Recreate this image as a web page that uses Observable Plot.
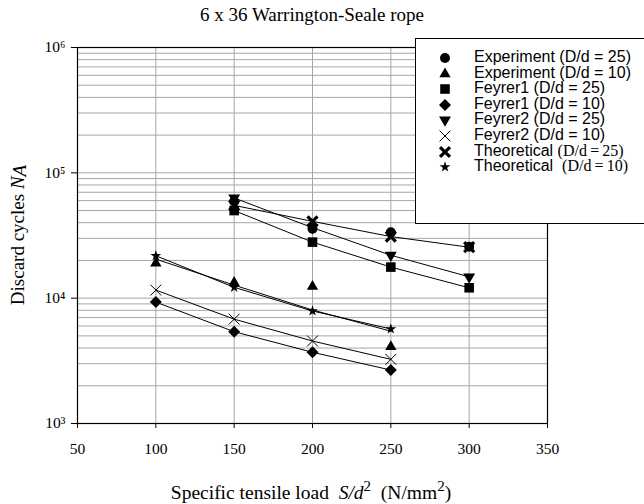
<!DOCTYPE html>
<html><head><meta charset="utf-8">
<script src="https://cdn.jsdelivr.net/npm/d3@7"></script>
<script src="https://cdn.jsdelivr.net/npm/@observablehq/plot@0.6"></script>
<style>
body{margin:0;background:#fff;}
#wrap{position:relative;width:644px;height:504px;overflow:hidden;font-family:"Liberation Serif","Times New Roman",serif;color:#000;}
#title{position:absolute;left:112px;width:400px;top:4px;text-align:center;font-size:19px;}
#ylab{position:absolute;left:18px;top:235px;transform:translate(-50%,-50%) rotate(-90deg);white-space:nowrap;font-size:19px;}
#xlab{position:absolute;left:311px;top:491px;transform:translate(-50%,-50%);white-space:nowrap;font-size:19.5px;}
#legend{position:absolute;left:415px;top:38px;width:240px;height:186px;border:1px solid #000;background:#fff;box-sizing:border-box;}
.row{position:absolute;left:0;height:16px;font-family:"Liberation Sans",Arial,sans-serif;font-size:16px;line-height:16px;white-space:nowrap;}
.row svg{position:absolute;left:21px;top:1px;}
.row span.t{position:absolute;left:58px;top:0;}
.serif{font-family:"Liberation Serif","Times New Roman",serif;}
</style></head><body>
<div id="wrap">
  <div id="chart"></div>
  <div id="title">6 x 36 Warrington-Seale rope</div>
  <div id="ylab">Discard cycles <i>N<span style="position:relative;top:2px">A</span></i></div>
  <div id="xlab">Specific tensile load &nbsp;<i>S/d</i><sup style="font-size:15px">2</sup> &nbsp;(N/mm<sup style="font-size:15px">2</sup>)</div>
  <div id="legend"></div>
</div>
<script>
// ---- data ----
const loads25 = [150, 200, 250, 300];
const loads10 = [100, 150, 200, 250];
const experiment25 = [59000, 35800, 33500, 25700];
const experiment10 = [19000, 13300, 12400, 4100];
const feyrer1_25 = [50000, 28000, 17700, 12100];
const feyrer1_10 = [9300, 5400, 3700, 2670];
const feyrer2_25 = [63000, 36500, 22000, 14800];
const feyrer2_10 = [11600, 6800, 4550, 3250];
const theoretical25 = [55000, 41000, 31000, 25500];
const theoretical10 = [21800, 12200, 7900, 5680];
const theoreticalFit10 = [20500, 12700, 8050, 5450];
const xTicks = [50, 100, 150, 200, 250, 300, 350];
const yTicks = [1e3, 1e4, 1e5, 1e6];
const supers = {"3":"³","4":"⁴","5":"⁵","6":"⁶"};

const triangleDown = {
  draw(context, size) {
    const y = -Math.sqrt(size / (Math.sqrt(3) * 3));
    context.moveTo(0, -y * 2);
    context.lineTo(-Math.sqrt(3) * y, y);
    context.lineTo(Math.sqrt(3) * y, y);
    context.closePath();
  }
};

const series = [
  {name: "Experiment", dd: "(D/d = 25)", x: loads25, y: experiment25, symbol: d3.symbolCircle, r: 5, line: false, filled: true},
  {name: "Experiment", dd: "(D/d = 10)", x: loads10, y: experiment10, symbol: d3.symbolTriangle, r: 4.2, line: false, filled: true},
  {name: "Feyrer1", dd: "(D/d = 25)", x: loads25, y: feyrer1_25, symbol: d3.symbolSquare, r: 5.4, line: true, filled: true},
  {name: "Feyrer1", dd: "(D/d = 10)", x: loads10, y: feyrer1_10, symbol: d3.symbolDiamond2, r: 5.4, line: true, filled: true},
  {name: "Feyrer2", dd: "(D/d = 25)", x: loads25, y: feyrer2_25, symbol: triangleDown, r: 4.4, line: true, filled: true},
  {name: "Feyrer2", dd: "(D/d = 10)", x: loads10, y: feyrer2_10, symbol: d3.symbolTimes, r: 5, line: true, filled: false, sw: 1},
  {name: "Theoretical", dd: "(D/d = 25)", x: loads25, y: theoretical25, symbol: d3.symbolTimes, r: 4.6, line: true, filled: false, sw: 3.2, serif: true},
  {name: "Theoretical", dd: "(D/d = 10)", x: loads10, y: theoretical10, symbol: d3.symbolStar, r: 3.4, line: true, filled: true, serif: true, gap: true}
];

const toRows = (xs, ys) => xs.map((x, i) => ({x, y: ys[i]}));

const marks = [
  Plot.gridY({ticks: d3.scaleLog().domain([1e3, 1e6]).ticks(), stroke: "#a6a6a6", strokeOpacity: 1, strokeWidth: 1}),
  Plot.gridX({ticks: xTicks, stroke: "#a6a6a6", strokeOpacity: 1, strokeWidth: 1}),
  Plot.frame({stroke: "#000", strokeWidth: 1.2}),
  Plot.axisY({ticks: yTicks, tickSize: 6, tickPadding: 6, tickFormat: d => "10" + supers[String(Math.round(Math.log10(d)))], fontSize: 15.5, label: null}),
  Plot.axisX({ticks: xTicks, tickSize: 5, tickPadding: 14, tickFormat: d => String(d), fontSize: 15.5, label: null}),
  Plot.line(toRows(loads10, theoreticalFit10), {x: "x", y: "y", stroke: "#000", strokeWidth: 1})
];
for (const s of series) {
  const rows = toRows(s.x, s.y);
  if (s.line) marks.push(Plot.line(rows, {x: "x", y: "y", stroke: "#000", strokeWidth: 1}));
}
for (const s of series) {
  const rows = toRows(s.x, s.y);
  if (s.filled) marks.push(Plot.dot(rows, {x: "x", y: "y", symbol: () => s.symbol, r: s.r, fill: "#000", stroke: "none"}));
  else marks.push(Plot.dot(rows, {x: "x", y: "y", symbol: () => s.symbol, r: s.r, fill: "none", stroke: "#000", strokeWidth: s.sw}));
}

const chart = Plot.plot({
  width: 644,
  height: 504,
  marginLeft: 77,
  marginRight: 97,
  marginTop: 47,
  marginBottom: 81,
  style: {fontFamily: "'Liberation Serif','Times New Roman',serif", color: "#000", background: "#fff"},
  x: {domain: [50, 350]},
  y: {type: "log", domain: [1e3, 1e6]},
  symbol: {type: "identity"},
  marks
});
document.getElementById("chart").appendChild(chart);

// legend
const legend = document.getElementById("legend");
series.forEach((s, i) => {
  const row = document.createElement("div");
  row.className = "row";
  row.style.top = (10 + i * 15.6) + "px";
  const size = Math.PI * s.r * s.r;
  const path = d3.symbol(s.symbol, size)();
  const fill = s.filled ? "#000" : "none";
  const stroke = s.filled ? "none" : "#000";
  const sw = s.filled ? 0 : s.sw;
  const label = s.serif
    ? `${s.name}${s.gap ? "&nbsp; " : " "}<span class="serif">${s.dd.replace(/ = /, "\u2009=\u2009")}</span>`
    : `${s.name} ${s.dd}`;
  row.innerHTML = `<svg width="16" height="16" viewBox="-8 -8 16 16"><path d="${path}" fill="${fill}" stroke="${stroke}" stroke-width="${sw}"/></svg><span class="t">${label}</span>`;
  legend.appendChild(row);
});
</script>
</body></html>
